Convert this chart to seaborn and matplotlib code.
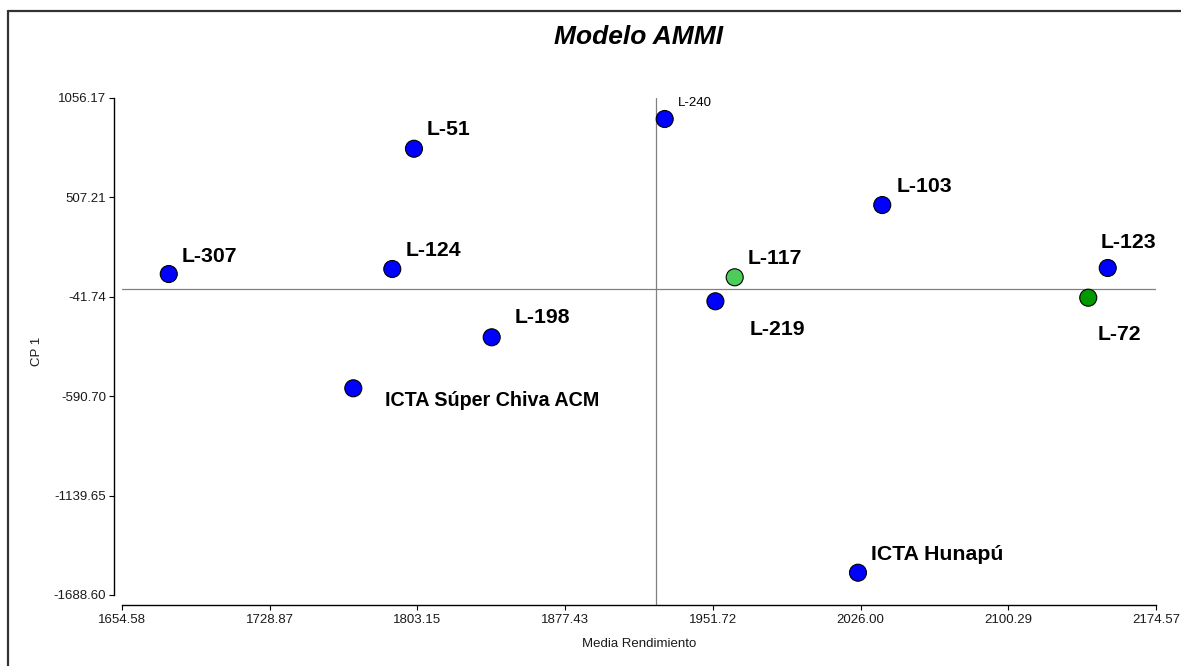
import numpy as np
import pandas as pd
import seaborn as sns
import matplotlib.pyplot as plt
from matplotlib.lines import Line2D

# ───────────────────────
# Data (AMMI biplot: mean yield vs CP 1 score)
# ───────────────────────
genotypes = ["L-240", "L-51", "L-103", "L-307", "L-124", "L-117",
             "L-123", "L-72", "L-219", "L-198", "ICTA Súper Chiva ACM", "ICTA Hunapú"]
media_rendimiento = [1927.5, 1801.4, 2036.9, 1678.1, 1790.5, 1962.7,
                     2150.3, 2140.5, 1953.0, 1840.5, 1770.9, 2024.7]
cp1 = [940.2, 776.0, 465.0, 84.0, 111.8, 65.9,
       117.3, -46.8, -66.6, -265.5, -547.1, -1565.6]

x_ticks = [1654.58, 1728.87, 1803.15, 1877.43, 1951.72, 2026.00, 2100.29, 2174.57]
y_ticks = [-1688.60, -1139.65, -590.70, -41.74, 507.21, 1056.17]

df = pd.DataFrame({"genotipo": genotypes, "media": media_rendimiento, "cp1": cp1})

# point colours (two lines highlighted in green)
colores = {g: "#0000FF" for g in genotypes}
colores["L-117"] = "#4CCD5A"
colores["L-72"] = "#009A00"

# label offsets in points (dx, dy), label size
etiquetas = {
    "L-240": ((9.4, 9.4), 9.5, "normal"),
    "L-51": ((9.4, 9.9), 15.3, "bold"),
    "L-103": ((10.1, 9.1), 15.3, "bold"),
    "L-307": ((9.4, 8.6), 15.3, "bold"),
    "L-124": ((9.6, 9.4), 15.3, "bold"),
    "L-117": ((9.6, 9.4), 15.3, "bold"),
    "L-123": ((-5.3, 14.6), 15.3, "bold"),
    "L-72": ((6.7, -30.5), 15.3, "bold"),
    "L-219": ((24.3, -24.3), 15.3, "bold"),
    "L-198": ((16.3, 10.1), 15.3, "bold"),
    "ICTA Súper Chiva ACM": ((22.8, -12.5), 14.2, "bold"),
    "ICTA Hunapú": ((9.6, 9.1), 15.3, "bold"),
}

# ───────────────────────
# Style
# ───────────────────────
sns.set_theme(style="white")
plt.rcParams["font.family"] = ["Liberation Sans", "DejaVu Sans"]

fig = plt.figure(figsize=(11.81, 6.66), dpi=100)
ax = fig.add_axes([122 / 1181, (666 - 605) / 666, 1034 / 1181, 507 / 666])

# reference lines: grand mean and CP1 = 0
ax.axvline(np.mean(media_rendimiento), color="#808080", lw=0.9, zorder=1)
ax.axhline(0, color="#808080", lw=0.9, zorder=1)

sns.scatterplot(data=df, x="media", y="cp1", hue="genotipo", palette=colores,
                s=150, edgecolor="black", linewidth=0.8, legend=False, zorder=3, ax=ax)

for g, xv, yv in zip(genotypes, media_rendimiento, cp1):
    (dx, dy), size, weight = etiquetas[g]
    ax.annotate(g, (xv, yv), xytext=(dx, dy), textcoords="offset points",
                ha="left", va="baseline", fontsize=size, fontweight=weight, color="black")

ax.set_xlim(1654.58, 2174.57)
ax.set_ylim(1056.17 - 507 * 5.523, 1056.17)
ax.set_xticks(x_ticks)
ax.set_xticklabels([f"{v:.2f}" for v in x_ticks])
ax.set_yticks(y_ticks)
ax.set_yticklabels([f"{v:.2f}" for v in y_ticks])

for side in ["top", "right"]:
    ax.spines[side].set_visible(False)
ax.spines["left"].set_position(("outward", 5.8))
ax.spines["left"].set_bounds(-1688.60, 1056.17)
for side in ["left", "bottom"]:
    ax.spines[side].set_color("black")
    ax.spines[side].set_linewidth(1.0)

ax.tick_params(axis="both", direction="out", length=3.6, width=0.8, color="black",
               labelsize=9.5, labelcolor="#1a1a1a", left=True, bottom=True)
ax.tick_params(axis="y", pad=2)
ax.tick_params(axis="x", pad=3)

ax.set_xlabel("Media Rendimiento", fontsize=9.5, color="#1a1a1a")
ax.set_ylabel("CP 1", fontsize=9.5, color="#1a1a1a")
ax.xaxis.set_label_coords(0.5, -0.066)
ax.yaxis.set_label_coords(-0.076, 0.5)

ax.set_title("Modelo AMMI", fontsize=19, fontweight="bold", fontstyle="italic",
             color="black", pad=39)

# outer frame (top and left edges)
fig.add_artist(Line2D([8 / 1181, 1], [1 - 11 / 666, 1 - 11 / 666], color="#333333", lw=1.6))
fig.add_artist(Line2D([8 / 1181, 8 / 1181], [0, 1 - 11 / 666], color="#333333", lw=1.6))

fig.savefig("out.png", dpi=100)
